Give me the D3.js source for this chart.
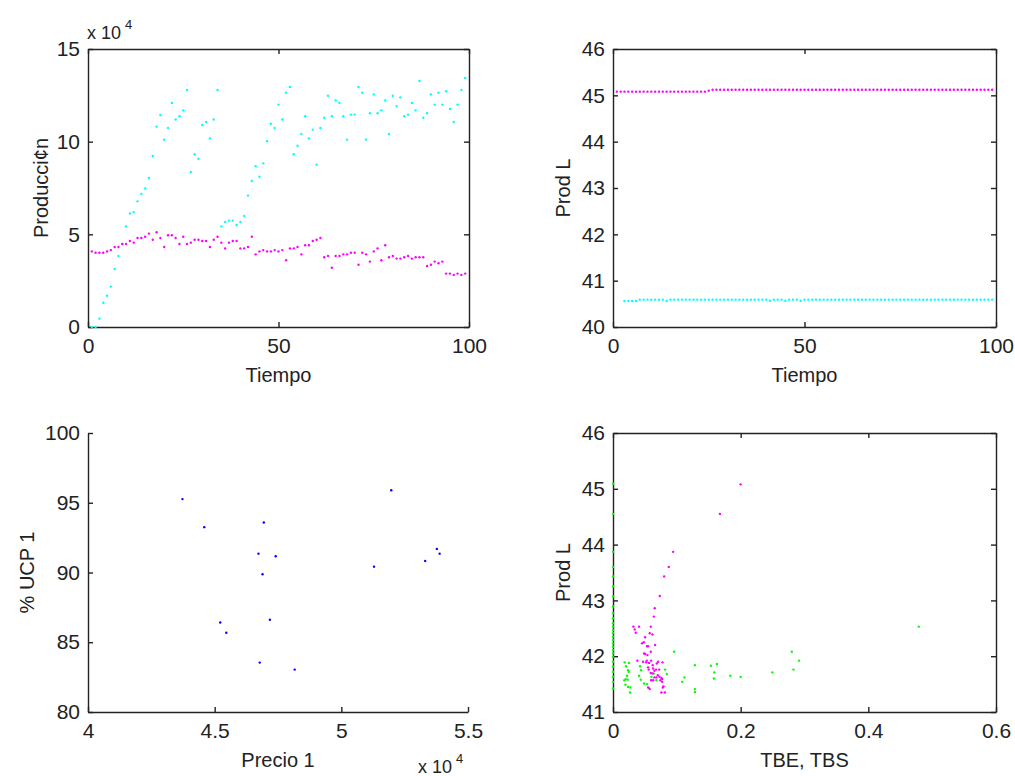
<!DOCTYPE html>
<html>
<head>
<meta charset="utf-8">
<script src="https://cdn.jsdelivr.net/npm/d3@7"></script>
<style>
  body { margin: 0; background: #fff; }
  svg { display: block; font-family: "Liberation Sans", Arial, sans-serif; }
  .tick text { font-size: 21px; fill: #222; }
  .lbl { font-size: 20px; fill: #222; }
</style>
</head>
<body>
<main></main>
<script>
// ---- data ----
const tiempo = [
  1, 2, 3, 4, 5, 6, 7, 8, 9, 10, 11, 12, 13, 14, 15, 16, 17, 18, 19, 20,
  21, 22, 23, 24, 25, 26, 27, 28, 29, 30, 31, 32, 33, 34, 35, 36, 37, 38, 39, 40,
  41, 42, 43, 44, 45, 46, 47, 48, 49, 50, 51, 52, 53, 54, 55, 56, 57, 58, 59, 60,
  61, 62, 63, 64, 65, 66, 67, 68, 69, 70, 71, 72, 73, 74, 75, 76, 77, 78, 79, 80,
  81, 82, 83, 84, 85, 86, 87, 88, 89, 90, 91, 92, 93, 94, 95, 96, 97, 98, 99
]

// Produccion (x 10^4)
const produccionCian = [
  0, 0, 0.45, 1.31, 1.69, 2.18, 3.13, 3.83, 4.48, 5.43,
  6.13, 6.2, 6.78, 7.18, 7.48, 8.04, 9.23, 10.81, 11.44, 10.11,
  10.74, 12.09, 11.2, 11.37, 11.69, 12.79, 8.36, 9.32, 9.08, 10.9,
  11.06, 10.18, 11.2, 12.79, 5.43, 5.67, 5.74, 5.74, 5.5, 5.67,
  5.99, 7.09, 7.88, 8.67, 8.11, 8.83, 10.02, 10.97, 10.74, 12.0,
  11.2, 12.64, 12.95, 9.32, 9.78, 10.41, 11.37, 10.18, 10.65, 8.76,
  10.74, 11.29, 12.48, 11.37, 12.23, 12.09, 11.37, 10.11, 11.46, 11.46,
  12.95, 12.64, 10.11, 11.53, 12.55, 11.53, 11.69, 12.23, 10.41, 12.48,
  11.92, 12.39, 11.37, 11.46, 12.09, 11.69, 13.27, 11.29, 11.53, 12.55,
  12.0, 12.64, 12.0, 12.72, 11.76, 11.06, 12.0, 12.79, 13.44
]
const produccionMagenta = [
  4.08, 4.01, 4.01, 4.01, 4.08, 4.15, 4.32, 4.32, 4.48, 4.48,
  4.64, 4.55, 4.8, 4.8, 4.87, 5.04, 4.71, 5.11, 4.8, 4.32,
  4.95, 4.95, 4.8, 4.48, 4.87, 4.48, 4.55, 4.71, 4.71, 4.64,
  4.64, 4.32, 4.71, 4.87, 4.55, 4.24, 4.55, 4.64, 4.64, 4.24,
  4.24, 4.32, 4.87, 3.92, 4.08, 4.15, 4.08, 4.08, 4.15, 4.08,
  4.15, 3.6, 4.24, 4.24, 4.32, 3.92, 4.41, 4.41, 4.64, 4.71,
  4.8, 3.76, 3.83, 3.2, 3.83, 3.83, 3.92, 3.92, 4.01, 4.01,
  3.36, 4.01, 3.92, 3.53, 4.08, 4.24, 3.6, 4.41, 3.76, 3.83,
  3.69, 3.69, 3.76, 3.83, 3.69, 3.76, 3.76, 3.76, 3.29, 3.36,
  3.53, 3.44, 3.53, 2.88, 2.88, 2.81, 2.88, 2.81, 2.88
]

// Prod L over time
const prodLMagenta = [
  45.08, 45.08, 45.08, 45.08, 45.08, 45.08, 45.08, 45.08, 45.08, 45.08,
  45.08, 45.08, 45.08, 45.08, 45.08, 45.08, 45.08, 45.08, 45.08, 45.08,
  45.08, 45.08, 45.08, 45.08, 45.10, 45.12, 45.12, 45.12, 45.12, 45.12,
  45.12, 45.12, 45.12, 45.12, 45.12, 45.12, 45.12, 45.12, 45.12, 45.12,
  45.12, 45.12, 45.12, 45.12, 45.12, 45.12, 45.12, 45.12, 45.12, 45.12,
  45.12, 45.12, 45.12, 45.12, 45.12, 45.12, 45.12, 45.12, 45.12, 45.12,
  45.12, 45.12, 45.12, 45.12, 45.12, 45.12, 45.12, 45.12, 45.12, 45.12,
  45.12, 45.12, 45.12, 45.12, 45.12, 45.12, 45.12, 45.12, 45.12, 45.12,
  45.12, 45.12, 45.12, 45.12, 45.12, 45.12, 45.12, 45.12, 45.12, 45.12,
  45.12, 45.12, 45.12, 45.12, 45.12, 45.12, 45.12, 45.12, 45.12
]
const prodLCian = [
  null, null, 40.56, 40.56, 40.56, 40.56, 40.59, 40.59, 40.59, 40.59,
  40.59, 40.59, 40.59, 40.56, 40.59, 40.59, 40.59, 40.59, 40.59, 40.59,
  40.59, 40.59, 40.59, 40.59, 40.59, 40.59, 40.59, 40.59, 40.59, 40.59,
  40.59, 40.59, 40.59, 40.59, 40.59, 40.59, 40.59, 40.59, 40.59, 40.59,
  40.565, 40.59, 40.59, 40.59, 40.565, 40.59, 40.59, 40.59, 40.565, 40.59,
  40.59, 40.59, 40.59, 40.59, 40.59, 40.59, 40.59, 40.59, 40.59, 40.59,
  40.59, 40.59, 40.59, 40.59, 40.59, 40.59, 40.59, 40.59, 40.59, 40.59,
  40.59, 40.59, 40.59, 40.59, 40.59, 40.59, 40.59, 40.59, 40.59, 40.59,
  40.59, 40.59, 40.59, 40.59, 40.59, 40.59, 40.59, 40.59, 40.59, 40.59,
  40.59, 40.59, 40.59, 40.59, 40.59, 40.59, 40.59, 40.59, 40.59
]

// Precio 1 (x 10^4) vs % UCP 1
const precio1 = [4.373, 4.459, 4.694, 4.673, 4.741, 4.689, 4.522, 4.546, 4.718, 4.678, 4.816, 5.197, 5.129, 5.331, 5.377, 5.388]
const ucp1 = [95.26, 93.25, 93.58, 91.35, 91.16, 89.87, 86.42, 85.68, 86.61, 83.54, 83.04, 95.9, 90.42, 90.83, 91.69, 91.35]

// TBE (magenta) vs Prod L
const tbe = [
  0.2, 0.1675, 0.0942, 0.0874, 0.0801, 0.0733, 0.0654, 0.0639,
  0.0319, 0.034, 0.0356, 0.0408, 0.0592, 0.0576, 0.0618, 0.0503, 0.0482, 0.0455, 0.066, 0.0534,
  0.055, 0.0592, 0.0487, 0.0503, 0.0539, 0.0597, 0.0382, 0.0471, 0.0518, 0.0565,
  0.0707, 0.0775, 0.0623, 0.0686, 0.055, 0.056, 0.0628, 0.0649, 0.0675, 0.0723,
  0.0592, 0.0618, 0.0702, 0.0728, 0.0759, 0.077, 0.0743, 0.0681, 0.0649, 0.0597,
  0.077, 0.0791, 0.078, 0.055, 0.0576, 0.0759, 0.0812, 0.0628, 0.0529
]
const prodLTbe = [
  45.08, 44.55, 43.87, 43.6, 43.43, 43.08, 42.86, 42.71,
  42.53, 42.48, 42.42, 42.53, 42.53, 42.41, 42.39, 42.34, 42.25, 42.23, 42.2, 42.18,
  42.18, 42.08, 42.05, 42.04, 42.02, 41.92, 41.92, 41.9, 41.89, 41.88,
  41.9, 41.89, 41.84, 41.87, 41.8, 41.76, 41.78, 41.74, 41.76, 41.76,
  41.7, 41.69, 41.66, 41.63, 41.61, 41.59, 41.57, 41.62, 41.62, 41.57,
  41.54, 41.46, 41.44, 41.44, 41.41, 41.35, 41.35, 41.57, 41.92
]

// TBS (green) vs Prod L
const tbs = [
  0, 0, 0, 0, 0, 0, 0, 0, 0, 0, 0, 0, 0, 0, 0, 0, 0, 0, 0, 0, 0, 0, 0, 0, 0, 0, 0,
  0.0183, 0.0204, 0.0251, 0.0236, 0.0246, 0.022, 0.0199, 0.0178, 0.023, 0.0194,
  0.0236, 0.0272, 0.0267, 0.0424, 0.044, 0.0408, 0.0435, 0.0487, 0.0534, 0.0565,
  0.0602, 0.0639, 0.0681, 0.0817, 0.0843, 0.0958, 0.112, 0.1084, 0.1283, 0.1283,
  0.1283, 0.1534, 0.1628, 0.1586, 0.1581, 0.1838, 0.2, 0.2497, 0.2801, 0.2916,
  0.2827, 0.479
]
const prodLTbs = [
  45.09, 44.55, 43.87, 43.6, 43.43, 43.25, 43.07, 42.89, 42.77, 42.68, 42.59, 42.53, 42.47,
  42.41, 42.35, 42.29, 42.23, 42.17, 42.11, 42.05, 41.99, 41.9, 41.81, 41.72, 41.63, 41.54, 41.42,
  41.89, 41.82, 41.88, 41.75, 41.72, 41.65, 41.59, 41.57, 41.58, 41.49,
  41.45, 41.44, 41.35, 41.82, 41.75, 41.65, 41.58, 41.51, 41.5, 41.43,
  41.63, 41.69, 41.57, 41.76, 41.68, 42.08, 41.62, 41.54, 41.84, 41.41,
  41.36, 41.83, 41.86, 41.71, 41.6, 41.65, 41.63, 41.71, 42.08, 41.92,
  41.76, 42.53
]

// ---- drawing ----
const w = 1015
const h = 776
const svg = d3.select("main").append("svg").attr("width", w).attr("height", h)

const axisColor = "#222"
const tickLen = 5

const makePanel = (opt) => {
  const x = d3.scaleLinear().domain(opt.xDomain).range([opt.x0, opt.x1])
  const y = d3.scaleLinear().domain(opt.yDomain).range([opt.y1, opt.y0])
  const g = svg.append("g")

  const bottom = d3.axisBottom(x).tickValues(opt.xTicks).tickFormat(d3.format("")).tickSizeInner(-tickLen).tickSizeOuter(0).tickPadding(11)
  g.append("g").attr("transform", `translate(0, ${opt.y1})`).call(bottom)

  const left = d3.axisLeft(y).tickValues(opt.yTicks).tickFormat(d3.format("")).tickSizeInner(-tickLen).tickSizeOuter(0).tickPadding(8)
  g.append("g").attr("transform", `translate(${opt.x0}, 0)`).call(left)

  if (opt.box) {
    const top = d3.axisTop(x).tickValues(opt.xTicks).tickFormat("").tickSizeInner(-tickLen).tickSizeOuter(0)
    g.append("g").attr("transform", `translate(0, ${opt.y0})`).call(top)
    const right = d3.axisRight(y).tickValues(opt.yTicks).tickFormat("").tickSizeInner(-tickLen).tickSizeOuter(0)
    g.append("g").attr("transform", `translate(${opt.x1}, 0)`).call(right)
  }

  g.selectAll(".domain, .tick line").attr("stroke", axisColor).attr("stroke-width", 1.4)

  g.append("text")
    .attr("class", "lbl")
    .attr("x", (opt.x0 + opt.x1) / 2)
    .attr("y", opt.y1 + 55)
    .attr("text-anchor", "middle")
    .text(opt.xLabel)

  g.append("text")
    .attr("class", "lbl")
    .attr("transform", `translate(${opt.yLabelX}, ${(opt.y0 + opt.y1) / 2}) rotate(-90)`)
    .attr("text-anchor", "middle")
    .text(opt.yLabel)

  return { g, x, y }
}

const dots = (p, xs, ys, color) => {
  const pts = xs.map((d, i) => [d, ys[i]]).filter((d) => d[1] != null)
  p.g.append("g")
    .selectAll("circle")
    .data(pts)
    .enter()
    .append("circle")
    .attr("cx", (d) => p.x(d[0]))
    .attr("cy", (d) => p.y(d[1]))
    .attr("r", 1.2)
    .attr("fill", color)
}

// "x 10^4" multiplier label
const exponent = (x, y) => {
  svg.append("text").attr("x", x).attr("y", y).attr("font-size", 18).attr("fill", "#222").text("x 10")
  svg.append("text").attr("x", x + 38).attr("y", y - 10).attr("font-size", 13).attr("fill", "#222").text("4")
}

// top left
const p1 = makePanel({
  x0: 88, x1: 469, y0: 49, y1: 327,
  xDomain: [0, 100], yDomain: [0, 15],
  xTicks: [0, 50, 100], yTicks: [0, 5, 10, 15],
  box: true, xLabel: "Tiempo", yLabel: "Producci¢n", yLabelX: 48,
})
dots(p1, tiempo, produccionCian, "#00ffff")
dots(p1, tiempo, produccionMagenta, "#ff00ff")
exponent(87, 39)

// top right
const p2 = makePanel({
  x0: 613, x1: 996, y0: 49, y1: 327,
  xDomain: [0, 100], yDomain: [40, 46],
  xTicks: [0, 50, 100], yTicks: [40, 41, 42, 43, 44, 45, 46],
  box: true, xLabel: "Tiempo", yLabel: "Prod L", yLabelX: 570,
})
dots(p2, tiempo, prodLMagenta, "#ff00ff")
dots(p2, tiempo, prodLCian, "#00ffff")

// bottom left
const p3 = makePanel({
  x0: 88, x1: 468, y0: 433, y1: 712,
  xDomain: [4, 5.5], yDomain: [80, 100],
  xTicks: [4, 4.5, 5, 5.5], yTicks: [80, 85, 90, 95, 100],
  box: false, xLabel: "Precio 1", yLabel: "% UCP 1", yLabelX: 34,
})
dots(p3, precio1, ucp1, "#0000ff")
exponent(418, 773)

// bottom right
const p4 = makePanel({
  x0: 613, x1: 996, y0: 433, y1: 712,
  xDomain: [0, 0.6], yDomain: [41, 46],
  xTicks: [0, 0.2, 0.4, 0.6], yTicks: [41, 42, 43, 44, 45, 46],
  box: true, xLabel: "TBE, TBS", yLabel: "Prod L", yLabelX: 570,
})
dots(p4, tbs, prodLTbs, "#00ff00")
dots(p4, tbe, prodLTbe, "#ff00ff")
</script>
</body>
</html>
